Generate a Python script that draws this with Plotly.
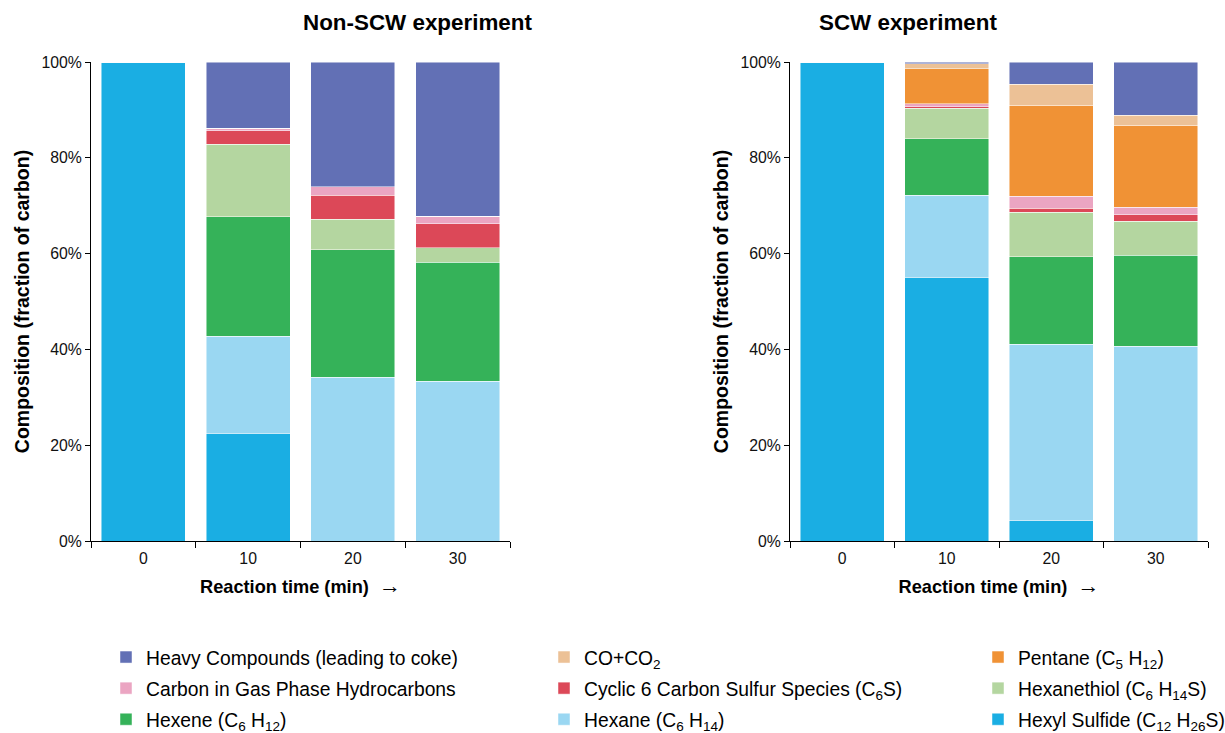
import plotly.graph_objects as go
from plotly.subplots import make_subplots

times = ["0", "10", "20", "30"]

# species listed bottom -> top of each stacked bar
species = [
    "Hexyl Sulfide (C<sub>12</sub> H<sub>26</sub>S)",
    "Hexane (C<sub>6</sub> H<sub>14</sub>)",
    "Hexene (C<sub>6</sub> H<sub>12</sub>)",
    "Hexanethiol (C<sub>6</sub> H<sub>14</sub>S)",
    "Cyclic 6 Carbon Sulfur Species (C<sub>6</sub>S)",
    "Carbon in Gas Phase Hydrocarbons",
    "Pentane (C<sub>5</sub> H<sub>12</sub>)",
    "CO+CO<sub>2</sub>",
    "Heavy Compounds (leading to coke)",
]
colors = ["#1AAEE3", "#9AD7F2", "#35B259", "#B4D6A0", "#DC4858",
          "#EBA5C2", "#F09235", "#ECC196", "#6270B5"]
legend_col = ["legend3", "legend2", "legend", "legend3", "legend2",
              "legend", "legend3", "legend2", "legend"]
legend_rank = [3, 3, 3, 2, 2, 2, 1, 1, 1]

# percent of carbon, one list per species, values at 0/10/20/30 min
non_scw = [
    [100, 22.4, 0, 0],
    [0, 20.3, 34.2, 33.4],
    [0, 25.0, 26.6, 24.8],
    [0, 15.1, 6.4, 3.0],
    [0, 2.9, 5.0, 5.0],
    [0, 0.5, 1.8, 1.6],
    [0, 0, 0, 0],
    [0, 0, 0, 0],
    [0, 13.8, 26.0, 32.2],
]
scw = [
    [100, 55.0, 4.2, 0],
    [0, 17.2, 36.9, 40.7],
    [0, 11.8, 18.2, 19.0],
    [0, 6.3, 9.3, 7.1],
    [0, 0.4, 0.9, 1.3],
    [0, 0.6, 2.5, 1.6],
    [0, 7.3, 19.0, 17.1],
    [0, 1.0, 4.4, 2.1],
    [0, 0.4, 4.6, 11.1],
]

FONT = "Liberation Sans, Arial, sans-serif"

fig = make_subplots(rows=1, cols=2)

for i, name in enumerate(species):
    for col, data in ((1, non_scw), (2, scw)):
        fig.add_trace(go.Bar(
            x=times, y=[v / 100 for v in data[i]], name=name,
            marker=dict(color=colors[i], line=dict(color="rgba(255,255,255,0.6)", width=0.8)),
            legendgroup=name, legend=legend_col[i], legendrank=legend_rank[i],
            showlegend=(col == 1),
        ), row=1, col=col)

W, H = 1225, 733
xdom = [[91 / W, 510 / W], [790 / W, 1208 / W]]
ydom = [1 - 541 / H, 1 - 62 / H]

xa = dict(type="category", range=[-0.5, 3.5], tickson="boundaries", ticks="outside",
          ticklen=6, tickcolor="black", showline=True, linecolor="black", linewidth=1,
          showgrid=False, automargin=False, ticklabelstandoff=3,
          tickfont=dict(size=15.8, color="#111"),
          title=dict(text="<b>Reaction time (min)</b>\u00a0\u00a0<span style='font-size:22px'>→</span>",
                     font=dict(size=18.2, color="black"), standoff=14))
ya = dict(range=[0, 1], dtick=0.2, tickformat=".0%", ticks="outside", ticklen=5,
          tickcolor="black", showline=True, linecolor="black", linewidth=1, showgrid=False,
          zeroline=False, automargin=False, tickfont=dict(size=15.8, color="#111"),
          title=dict(text="<b>Composition (fraction of carbon)</b>", font=dict(size=19.5, color="black"),
                     standoff=6))

fig.update_layout(
    xaxis=dict(xa, domain=xdom[0]), xaxis2=dict(xa, domain=xdom[1]),
    yaxis=dict(ya, domain=ydom), yaxis2=dict(ya, domain=ydom),
    barmode="stack", bargap=0.2,
    width=W, height=H, margin=dict(l=0, r=0, t=0, b=0, autoexpand=False),
    plot_bgcolor="white", paper_bgcolor="white",
    font=dict(family=FONT, color="black"),
)

leg = dict(orientation="v", yanchor="top", y=1 - 638 / H, font=dict(size=19.3),
           tracegroupgap=3, bgcolor="rgba(0,0,0,0)", traceorder="grouped")
fig.update_layout(
    legend=dict(leg, x=106 / W),
    legend2=dict(leg, x=544 / W),
    legend3=dict(leg, x=978 / W),
)

titles = ["Non-SCW experiment", "SCW experiment"]
for t, d in zip(titles, xdom):
    fig.add_annotation(text=f"<b>{t}</b>", x=(d[0] + d[1]) / 2, y=1 - 22 / H,
                       xref="paper", yref="paper", showarrow=False,
                       font=dict(size=22.4, color="black"), yanchor="middle")

# page body has a default 8px margin; drop it so the figure sits at the window origin
fig.write_html("out.html", config={"displayModeBar": False},
               post_script="document.body.style.margin='0';")
